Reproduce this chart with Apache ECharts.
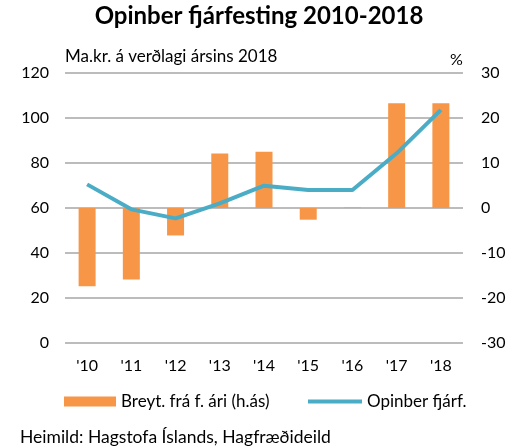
<!DOCTYPE html>
<html>
<head>
<meta charset="utf-8">
<script src="https://cdn.jsdelivr.net/npm/echarts@6/dist/echarts.min.js"></script>
<style>
html,body{margin:0;padding:0;background:#fff;}
#main{width:518px;height:446px;}
</style>
</head>
<body>
<div id="main"></div>
<script>
var years = ["'10","'11","'12","'13","'14","'15","'16","'17","'18"];
var breyting = [-17.4, -15.9, -6.1, 12.1, 12.5, -2.6, 0.1, 23.3, 23.3]; // % (h.ás)
var fjarfesting = [70.5, 59.4, 55.4, 62.1, 69.9, 68, 68, 84.3, 103.6]; // ma.kr.

var font = 'Lato, "Open Sans", sans-serif';
var myChart = echarts.init(document.getElementById('main'));
var option = {
    backgroundColor: '#fff',
    animation: false,
    textStyle: { fontFamily: font, color: '#000' },
    title: [
        {
            text: 'Opinber fjárfesting 2010-2018',
            left: 'center',
            top: 4,
            padding: 0,
            textStyle: { fontFamily: font, fontSize: 24, fontWeight: 'bold', color: '#000' }
        },
        {
            text: 'Ma.kr. á verðlagi ársins 2018',
            left: 65,
            top: 48,
            padding: 0,
            textStyle: { fontFamily: font, fontSize: 17, fontWeight: 'normal', color: '#000' }
        },
        {
            text: '%',
            left: 450,
            top: 52,
            padding: 0,
            textStyle: { fontFamily: font, fontSize: 16, fontWeight: 'normal', color: '#000' }
        },
        {
            text: 'Heimild: Hagstofa Íslands, Hagfræðideild',
            left: 20,
            top: 428,
            padding: 0,
            textStyle: { fontFamily: font, fontSize: 17.5, fontWeight: 'normal', color: '#000' }
        }
    ],
    legend: [
        {
            data: ['Breyt. frá f. ári (h.ás)'],
            left: 64,
            top: 393,
            padding: 0,
            icon: 'rect',
            itemWidth: 52,
            itemHeight: 10,
            textStyle: { fontFamily: font, fontSize: 17, color: '#000' }
        },
        {
            data: ['Opinber fjárf.'],
            left: 308,
            top: 393,
            padding: 0,
            icon: 'rect',
            itemWidth: 54,
            itemHeight: 4,
            textStyle: { fontFamily: font, fontSize: 17, color: '#000' }
        }
    ],
    grid: { left: 65, right: 55, top: 73, bottom: 103 },
    xAxis: {
        type: 'category',
        data: years,
        axisLine: { show: false },
        axisTick: { show: false },
        axisLabel: { fontFamily: font, fontSize: 16, color: '#000', margin: 15 }
    },
    yAxis: [
        {
            type: 'value',
            min: 0,
            max: 120,
            interval: 20,
            axisLine: { show: false },
            axisTick: { show: false },
            axisLabel: { fontFamily: font, fontSize: 16, color: '#000', margin: 16 },
            splitLine: { lineStyle: { color: '#a6a6a6', width: 1.5 } }
        },
        {
            type: 'value',
            min: -30,
            max: 30,
            interval: 10,
            axisLine: { show: false },
            axisTick: { show: false },
            axisLabel: { fontFamily: font, fontSize: 16, color: '#000', margin: 18 },
            splitLine: { show: false }
        }
    ],
    series: [
        {
            name: 'Breyt. frá f. ári (h.ás)',
            type: 'bar',
            yAxisIndex: 1,
            barWidth: 17,
            itemStyle: { color: '#f79646' },
            data: breyting
        },
        {
            name: 'Opinber fjárf.',
            type: 'line',
            yAxisIndex: 0,
            symbol: 'none',
            z: 5,
            itemStyle: { color: '#4bacc6' },
            lineStyle: { color: '#4bacc6', width: 4 },
            data: fjarfesting
        }
    ]
};
myChart.setOption(option);
</script>
</body>
</html>
